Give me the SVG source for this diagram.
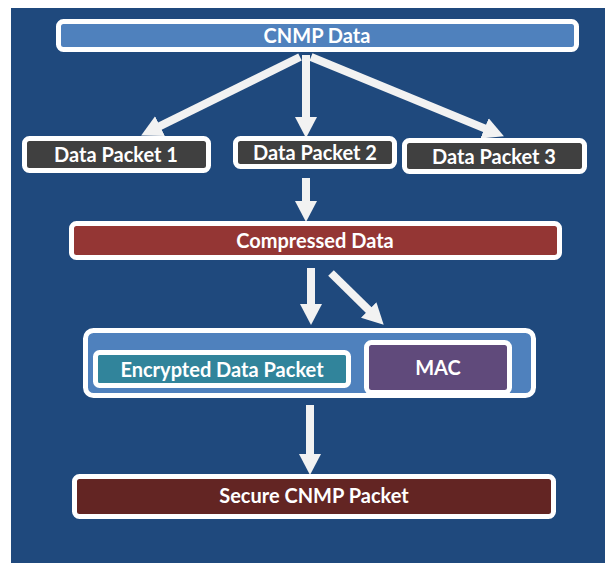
<svg xmlns="http://www.w3.org/2000/svg" width="605" height="563" viewBox="0 0 605 563">
<defs>
<style>
.box{stroke:#ffffff;stroke-width:5}
.lbl{font-family:Lato,"Open Sans","Liberation Sans",sans-serif;font-weight:bold;font-size:20px;fill:#ffffff;text-anchor:middle}
.conn{stroke:#f2f2f2;stroke-width:8;fill:none;marker-end:url(#ah)}
</style>
<marker id="ah" markerUnits="userSpaceOnUse" markerWidth="22" markerHeight="24" refX="8" refY="12" orient="auto" viewBox="0 0 22 24">
<path d="M0,1 L21,12 L0,23 z" fill="#f2f2f2"/>
</marker>
</defs>
<rect x="11" y="8" width="594" height="555" fill="#1f497d"/>
<g id="connectors">
<line class="conn" x1="300" y1="57" x2="152.8" y2="129.7"/>
<line class="conn" x1="306" y1="55" x2="306" y2="125"/>
<line class="conn" x1="311" y1="57" x2="491.9" y2="131.4"/>
<line class="conn" x1="306" y1="178" x2="306" y2="209"/>
<line class="conn" x1="311" y1="268" x2="311" y2="312"/>
<line class="conn" x1="331" y1="273" x2="374.4" y2="315.6"/>
<line class="conn" x1="310" y1="405" x2="310" y2="462"/>
</g>
<g id="cnmp-data">
<rect class="box" x="58.5" y="21.5" width="518" height="28" rx="5" fill="#4f81bd"/>
<text class="lbl" x="317" y="42.5">CNMP Data</text>
</g>
<g id="data-packet-1">
<rect class="box" x="24.5" y="138.5" width="184" height="32" rx="5" fill="#404040"/>
<text class="lbl" x="116" y="162">Data Packet 1</text>
</g>
<g id="data-packet-2">
<rect class="box" x="235.5" y="138.5" width="159" height="28" rx="5" fill="#404040"/>
<text class="lbl" x="315" y="160">Data Packet 2</text>
</g>
<g id="data-packet-3">
<rect class="box" x="404.5" y="140.5" width="180" height="31" rx="5" fill="#404040"/>
<text class="lbl" x="494" y="164">Data Packet 3</text>
</g>
<g id="compressed-data">
<rect class="box" x="71.5" y="223.5" width="488" height="34" rx="5" fill="#943634"/>
<text class="lbl" x="315" y="248">Compressed Data</text>
</g>
<g id="container">
<rect class="box" x="85.5" y="330.5" width="448" height="65" rx="8" fill="#4f81bd"/>
</g>
<g id="encrypted-data-packet">
<rect class="box" x="95.5" y="352.5" width="253" height="33" rx="4" fill="#31849b"/>
<text class="lbl" x="222" y="377">Encrypted Data Packet</text>
</g>
<g id="mac">
<rect class="box" x="366.5" y="342.5" width="143" height="50" rx="5" fill="#604a7b"/>
<text class="lbl" x="438" y="375">MAC</text>
</g>
<g id="secure-cnmp-packet">
<rect class="box" x="74.5" y="476.5" width="479" height="40" rx="5" fill="#632523"/>
<text class="lbl" x="314" y="503">Secure CNMP Packet</text>
</g>
</svg>
